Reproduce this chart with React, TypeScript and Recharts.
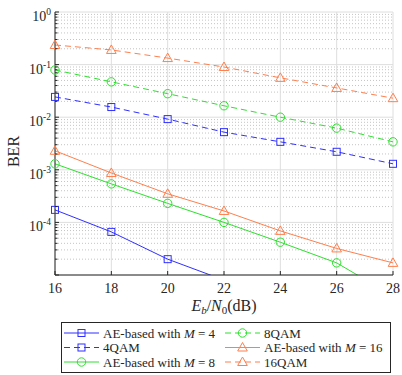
import React from 'react';
import { LineChart, Line, XAxis, YAxis, CartesianGrid } from 'recharts';

// Eb/N0 in dB
const snr = [16, 18, 20, 22, 24, 26, 28];

// BER (values below 1e-5 run off the bottom of the plot)
const aeM4 = [1.73e-4, 6.6e-5, 2.0e-5, 8e-6, null, null, null];
const qam4 = [0.0243, 0.0156, 0.0092, 0.0052, 0.0034, 0.0022, 0.0013];
const aeM8 = [1.3e-3, 5.4e-4, 2.3e-4, 1.0e-4, 4.2e-5, 1.7e-5, 4e-6];
const qam8 = [0.079, 0.047, 0.028, 0.0165, 0.01, 0.0062, 0.0034];
const aeM16 = [2.3e-3, 8.7e-4, 3.5e-4, 1.65e-4, 6.9e-5, 3.2e-5, 1.7e-5];
const qam16 = [0.236, 0.19, 0.133, 0.09, 0.056, 0.036, 0.023];

const xTicks = [16, 18, 20, 22, 24, 26, 28];
const yMajor = [1e-5, 1e-4, 1e-3, 1e-2, 1e-1, 1];
const yLabelExp: Record<number, string> = { 1: '0', 0.1: '-1', 0.01: '-2', 0.001: '-3', 0.0001: '-4' };
const minorMult = [2, 3, 4, 5, 6, 7, 8, 9];
const yMinor = yMajor.slice(0, 5).flatMap((d) => minorMult.map((m) => +(m * d).toPrecision(2)));
const yAll = [...yMajor, ...yMinor].sort((a, b) => a - b);

const data = snr.map((s, i) => ({
  snr: s,
  aeM4: aeM4[i],
  qam4: qam4[i],
  aeM8: aeM8[i],
  qam8: qam8[i],
  aeM16: aeM16[i],
  qam16: qam16[i],
}));

const BLUE = '#2f2fff';
const GREEN = '#2ee02e';
const ORANGE = '#ff7f4d';
const AXIS = '#262626';
const FONT = '"Liberation Serif", "Times New Roman", serif';
const DASH = '6 4';

const Marker = ({ shape, cx, cy, color }: any) => {
  if (cx == null || cy == null || isNaN(cx) || isNaN(cy)) return null;
  if (shape === 'square') {
    return <rect x={cx - 3.5} y={cy - 3.5} width={7} height={7} fill="none" stroke={color} strokeWidth={1} />;
  }
  if (shape === 'circle') {
    return <circle cx={cx} cy={cy} r={4.2} fill="none" stroke={color} strokeWidth={1} />;
  }
  return (
    <polygon
      points={`${cx},${cy - 5} ${cx - 4.8},${cy + 3.5} ${cx + 4.8},${cy + 3.5}`}
      fill="none"
      stroke={color}
      strokeWidth={1}
    />
  );
};

const Dot = (props: any) => <Marker {...props} />;

const BottomTick = ({ x, y, payload }: any) => {
  const axisY = y - 8;
  return (
    <g>
      <line x1={x} x2={x} y1={axisY} y2={axisY - 4} stroke={AXIS} />
      <text x={x} y={y} dy="0.71em" textAnchor="middle" fontFamily={FONT} fontSize={14} fill={AXIS}>
        {payload.value}
      </text>
    </g>
  );
};

const TopTick = ({ x, y }: any) => <line x1={x} x2={x} y1={y} y2={y + 4} stroke={AXIS} />;

const LeftTick = ({ x, y, payload }: any) => {
  const axisX = x + 4;
  const v = payload.value;
  const exp = yLabelExp[v];
  const major = yMajor.includes(v);
  return (
    <g>
      <line x1={axisX} x2={axisX + (major ? 4 : 2.5)} y1={y} y2={y} stroke={AXIS} />
      {exp !== undefined && (
        <text x={x} y={y + 9} textAnchor="end" fontFamily={FONT} fontSize={14} fill={AXIS}>
          <tspan>10</tspan>
          <tspan dy={-6} fontSize={9.5}>{exp}</tspan>
        </text>
      )}
    </g>
  );
};

const RightTick = ({ x, y, payload }: any) => {
  const major = yMajor.includes(payload.value);
  return <line x1={x} x2={x - (major ? 4 : 2.5)} y1={y} y2={y} stroke={AXIS} />;
};

const XLabel = ({ viewBox }: any) => {
  const cx = viewBox.x + viewBox.width / 2;
  const y = viewBox.y + 36;
  return (
    <text x={cx} y={y} textAnchor="middle" fontFamily={FONT} fontSize={16} fill={AXIS}>
      <tspan fontStyle="italic">E</tspan>
      <tspan fontStyle="italic" fontSize={11} dy={3}>b</tspan>
      <tspan dy={-3}>/</tspan>
      <tspan fontStyle="italic">N</tspan>
      <tspan fontSize={11} dy={3}>0</tspan>
      <tspan dy={-3}>(dB)</tspan>
    </text>
  );
};

const YLabel = ({ viewBox }: any) => {
  const x = 19;
  const cy = viewBox.y + viewBox.height / 2 + 8;
  return (
    <text x={x} y={cy} transform={`rotate(-90 ${x} ${cy})`} textAnchor="middle" fontFamily={FONT} fontSize={16} fill={AXIS}>
      BER
    </text>
  );
};

const legendItems = [
  { col: 0, row: 0, color: BLUE, dash: undefined, shape: 'square', text: 'AE-based with ', m: '4' },
  { col: 0, row: 1, color: BLUE, dash: DASH, shape: 'square', text: '4QAM' },
  { col: 0, row: 2, color: GREEN, dash: undefined, shape: 'circle', text: 'AE-based with ', m: '8' },
  { col: 1, row: 0, color: GREEN, dash: DASH, shape: 'circle', text: '8QAM' },
  { col: 1, row: 1, color: ORANGE, dash: undefined, shape: 'triangle', text: 'AE-based with ', m: '16' },
  { col: 1, row: 2, color: ORANGE, dash: DASH, shape: 'triangle', text: '16QAM' },
];

const LegendBox = () => (
  <svg width={330} height={51} style={{ position: 'absolute', left: 61, top: 322 }}>
    <rect x={0.5} y={0.5} width={329} height={50} fill="#fff" stroke={AXIS} strokeWidth={1} />
    {legendItems.map((it, i) => {
      const x0 = it.col === 0 ? 3 : 164;
      const y = 11 + it.row * 14.5;
      return (
        <g key={i}>
          <line x1={x0} x2={x0 + 35} y1={y} y2={y} stroke={it.color} strokeDasharray={it.dash} />
          <Marker shape={it.shape} cx={x0 + 17.5} cy={y} color={it.color} />
          <text x={x0 + 39} y={y + 4.5} fontFamily={FONT} fontSize={13} fill={AXIS}>
            {it.text}
            {it.m && (
              <>
                <tspan fontStyle="italic">M</tspan>
                <tspan> = {it.m}</tspan>
              </>
            )}
          </text>
        </g>
      );
    })}
  </svg>
);

const series = [
  { key: 'aeM4', color: BLUE, dash: undefined, shape: 'square' },
  { key: 'qam4', color: BLUE, dash: DASH, shape: 'square' },
  { key: 'aeM8', color: GREEN, dash: undefined, shape: 'circle' },
  { key: 'qam8', color: GREEN, dash: DASH, shape: 'circle' },
  { key: 'aeM16', color: ORANGE, dash: undefined, shape: 'triangle' },
  { key: 'qam16', color: ORANGE, dash: DASH, shape: 'triangle' },
];

export default function App() {
  return (
    <div style={{ position: 'absolute', left: 0, top: 0, width: 402, height: 375, background: '#fff' }}>
      <LineChart width={402} height={375} data={data} margin={{ top: 12, right: 9, left: 15, bottom: 60 }}>
        <CartesianGrid horizontalValues={yMinor} vertical={false} stroke="#c4c4c4" strokeDasharray="1 2" />
        <CartesianGrid horizontalValues={yMajor} verticalValues={xTicks} stroke="#dedede" />
        <XAxis
          dataKey="snr"
          type="number"
          domain={[16, 28]}
          ticks={xTicks}
          interval={0}
          height={40}
          tickSize={0}
          tickMargin={8}
          tick={<BottomTick />}
          stroke={AXIS}
          label={<XLabel />}
        />
        <XAxis
          xAxisId="top"
          orientation="top"
          dataKey="snr"
          type="number"
          domain={[16, 28]}
          ticks={xTicks}
          interval={0}
          height={0}
          tickSize={0}
          tickMargin={0}
          tick={<TopTick />}
          stroke={AXIS}
        />
        <YAxis
          scale="log"
          type="number"
          domain={[1e-5, 1]}
          allowDataOverflow
          ticks={yAll}
          interval={0}
          width={40}
          tickSize={0}
          tickMargin={4}
          tick={<LeftTick />}
          stroke={AXIS}
          label={<YLabel />}
        />
        <YAxis
          yAxisId="right"
          orientation="right"
          scale="log"
          type="number"
          domain={[1e-5, 1]}
          allowDataOverflow
          ticks={yAll}
          interval={0}
          width={0}
          tickSize={0}
          tickMargin={0}
          tick={<RightTick />}
          stroke={AXIS}
        />
        {series.map((s) => (
          <Line
            key={s.key}
            dataKey={s.key}
            stroke={s.color}
            strokeWidth={1}
            strokeDasharray={s.dash}
            dot={<Dot shape={s.shape} color={s.color} />}
            activeDot={false}
            isAnimationActive={false}
            type="linear"
          />
        ))}
      </LineChart>
      <LegendBox />
    </div>
  );
}
